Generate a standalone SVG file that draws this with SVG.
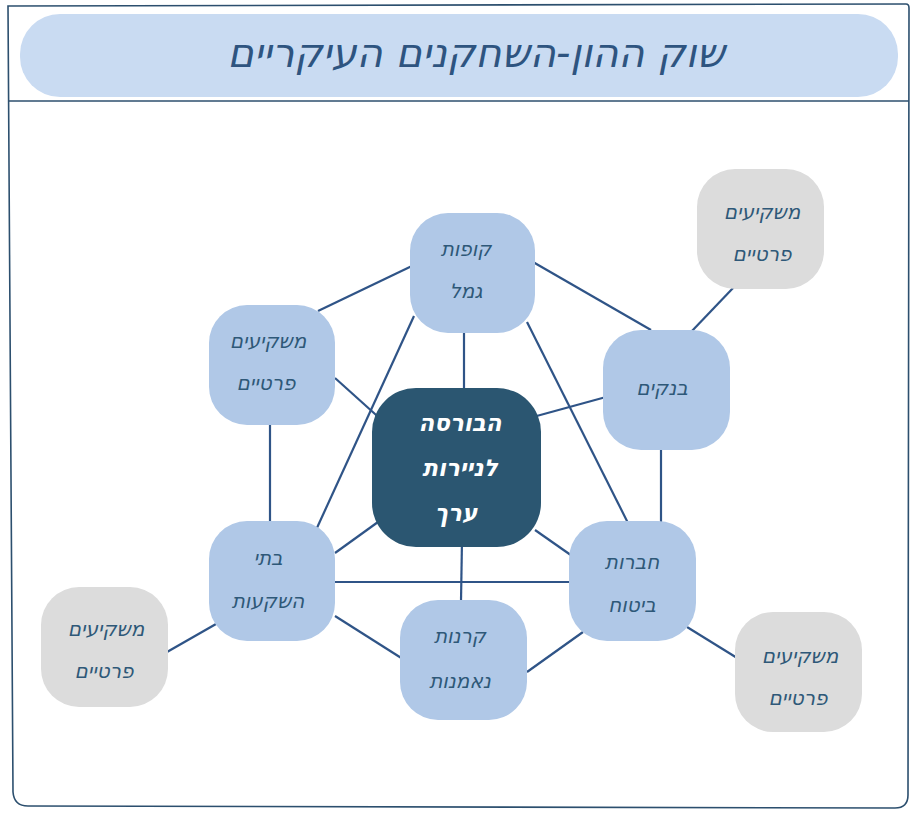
<svg xmlns="http://www.w3.org/2000/svg" width="913" height="819" viewBox="0 0 913 819">
<style>
.frame{fill:#fff;stroke:#2c4f6e;stroke-width:1.6}
.edge{stroke:#2f5487;stroke-width:2.2;fill:none}
.blue{fill:#b0c8e7}
.gray{fill:#dcdcdc}
.dark{fill:#2b5671}
.t{font-family:"DejaVu Sans","Liberation Sans",sans-serif;font-style:italic;font-size:20px;fill:#2e5878;text-anchor:middle}
.tw{font-family:"DejaVu Sans","Liberation Sans",sans-serif;font-style:italic;font-weight:bold;font-size:23px;fill:#fff;text-anchor:middle}
.title{font-family:"DejaVu Sans","Liberation Sans",sans-serif;font-style:italic;font-size:40px;fill:#2e5480;text-anchor:middle}
</style>
<path class="frame" d="M8 6 L906 4 Q909 4 909 8 L908 795 Q908 808 895 808 L28 806 Q14 806 13 792 L8 6 Z"/>
<line x1="8" y1="101" x2="909" y2="101" stroke="#2c4f6e" stroke-width="1.6"/>
<rect x="20" y="14" width="878" height="83" rx="40" fill="#c9dbf2"/>
<text class="title" x="476" y="67" direction="rtl">שוק ההון-השחקנים העיקריים</text>
<g id="edges">
<line class="edge" x1="414" y1="265" x2="318" y2="311"/>
<line class="edge" x1="533" y1="262" x2="651" y2="330"/>
<line class="edge" x1="464" y1="333" x2="464" y2="390"/>
<line class="edge" x1="414" y1="316" x2="316" y2="530"/>
<line class="edge" x1="527" y1="322" x2="628" y2="523"/>
<line class="edge" x1="335" y1="378" x2="385" y2="423"/>
<line class="edge" x1="270" y1="425" x2="270" y2="521"/>
<line class="edge" x1="606" y1="397" x2="533" y2="417"/>
<line class="edge" x1="661" y1="450" x2="661" y2="523"/>
<line class="edge" x1="691" y1="332" x2="734" y2="287"/>
<line class="edge" x1="335" y1="553" x2="378" y2="522"/>
<line class="edge" x1="462" y1="540" x2="461" y2="601"/>
<line class="edge" x1="535" y1="530" x2="575" y2="558"/>
<line class="edge" x1="335" y1="582" x2="575" y2="582"/>
<line class="edge" x1="335" y1="616" x2="406" y2="661"/>
<line class="edge" x1="216" y1="624" x2="167" y2="652"/>
<line class="edge" x1="527" y1="672" x2="583" y2="632"/>
<line class="edge" x1="687" y1="627" x2="742" y2="661"/>
</g>
<g id="kupot-gemel">
<rect class="blue" x="410" y="213" width="125" height="120" rx="38"/>
<text class="t" x="466" y="256">קופות</text>
<text class="t" x="466" y="298">גמל</text>
</g>
<g id="private-left">
<rect class="blue" x="209" y="305" width="126" height="120" rx="38"/>
<text class="t" x="268" y="348">משקיעים</text>
<text class="t" x="266" y="390">פרטיים</text>
</g>
<g id="banks">
<rect class="blue" x="603" y="330" width="127" height="120" rx="38"/>
<text class="t" x="662" y="395">בנקים</text>
</g>
<g id="bursa">
<rect class="dark" x="372" y="388" width="169" height="159" rx="44"/>
<text class="tw" x="460" y="431">הבורסה</text>
<text class="tw" x="460" y="476">לניירות</text>
<text class="tw" x="456" y="521">ערך</text>
</g>
<g id="batei-hashkaot">
<rect class="blue" x="209" y="521" width="126" height="120" rx="38"/>
<text class="t" x="268" y="565">בתי</text>
<text class="t" x="268" y="608">השקעות</text>
</g>
<g id="kranot">
<rect class="blue" x="400" y="600" width="127" height="120" rx="38"/>
<text class="t" x="460" y="643">קרנות</text>
<text class="t" x="460" y="688">נאמנות</text>
</g>
<g id="bituach">
<rect class="blue" x="569" y="521" width="127" height="120" rx="38"/>
<text class="t" x="632" y="569">חברות</text>
<text class="t" x="632" y="612">ביטוח</text>
</g>
<g id="private-topright">
<rect class="gray" x="697" y="169" width="127" height="120" rx="38"/>
<text class="t" x="762" y="219">משקיעים</text>
<text class="t" x="762" y="261">פרטיים</text>
</g>
<g id="private-left-gray">
<rect class="gray" x="41" y="587" width="127" height="120" rx="38"/>
<text class="t" x="106" y="636">משקיעים</text>
<text class="t" x="104" y="678">פרטיים</text>
</g>
<g id="private-bottomright">
<rect class="gray" x="735" y="612" width="127" height="120" rx="38"/>
<text class="t" x="800" y="663">משקיעים</text>
<text class="t" x="798" y="705">פרטיים</text>
</g>
</svg>
